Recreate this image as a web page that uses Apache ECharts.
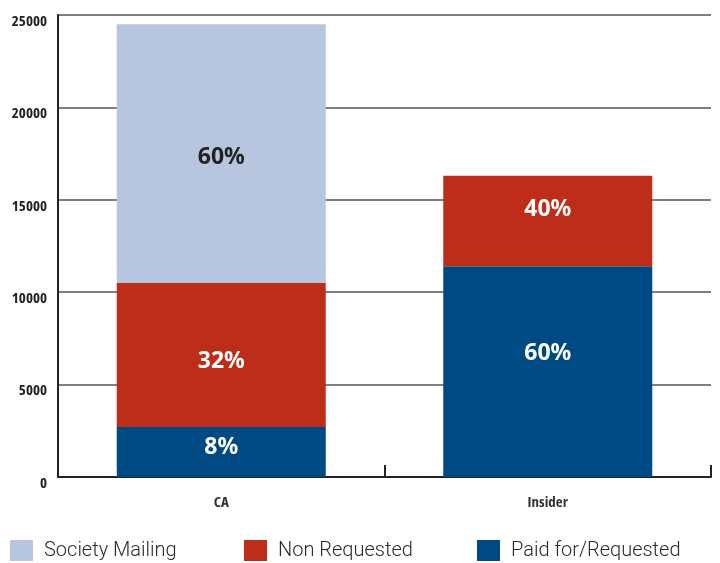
<!DOCTYPE html>
<html>
<head>
<meta charset="utf-8">
<script src="https://cdn.jsdelivr.net/npm/echarts@6/dist/echarts.min.js"></script>
<style>html,body{margin:0;padding:0;background:#fff;}#c{width:720px;height:563px;}</style>
</head>
<body>
<div id="c"></div>
<script>
const categories = ['CA', 'Insider'];
const paidValues = [2700, 11400];
const nonRequestedValues = [7800, 4900];
const societyValues = [14000, 0];
const paidLabels = ['8%', '60%'];
const nonRequestedLabels = ['32%', '40%'];
const societyLabels = ['60%', ''];
const yTicks = [0, 5000, 10000, 15000, 20000, 25000];

const condensed = '"Open Sans", sans-serif';
const labelOffsets = {paid: [[0, -5], [0, -18]], non: [[0, 6], [0, -12]], soc: [[0, 4], [0, 0]]};

function mkSeries(name, values, labels, color, textColor, offs) {
  return {
    name: name, type: 'bar', stack: 'total', barWidth: 209,
    itemStyle: {color: color},
    data: values.map((v, i) => ({
      value: v,
      label: {show: labels[i] !== '', formatter: labels[i], offset: offs[i]}
    })),
    label: {position: 'inside', color: textColor, fontSize: 23, fontWeight: 'bold',
            fontFamily: '"Noto Sans", sans-serif'}
  };
}

const chart = echarts.init(document.getElementById('c'));
const legendBase = {
  top: 540, padding: 0, itemWidth: 23, itemHeight: 21, icon: 'rect', itemGap: 0,
  textStyle: {fontSize: 20, color: '#2a2a2a', fontFamily: 'Roboto, sans-serif', fontWeight: 300, padding: [0, 0, 0, 6]}
};
chart.setOption({
  animation: false,
  grid: {left: 58, right: 9, top: 15, bottom: 86},
  legend: [
    Object.assign({left: 10, data: ['Society Mailing']}, legendBase),
    Object.assign({left: 244, data: ['Non Requested']}, legendBase),
    Object.assign({left: 477, data: ['Paid for/Requested']}, legendBase)
  ],
  xAxis: {
    type: 'category', data: categories,
    axisLine: {lineStyle: {color: '#222', width: 2}},
    axisTick: {show: true, inside: true, length: 12, lineStyle: {color: '#222', width: 2}},
    axisLabel: {color: '#333', fontSize: 15, fontWeight: 'bold condensed', fontFamily: condensed, margin: 18}
  },
  yAxis: {
    type: 'value', min: yTicks[0], max: yTicks[yTicks.length - 1], interval: yTicks[1] - yTicks[0],
    axisLine: {show: true, lineStyle: {color: '#222', width: 2}},
    axisTick: {show: false},
    splitLine: {lineStyle: {color: '#555', width: 1.5}},
    axisLabel: {color: '#222', fontSize: 15, fontWeight: 'bold condensed', fontFamily: condensed, margin: 11,
                verticalAlign: 'top', lineHeight: 13, formatter: v => String(v)}
  },
  series: [
    mkSeries('Paid for/Requested', paidValues, paidLabels, '#004a84', '#fff', labelOffsets.paid),
    mkSeries('Non Requested', nonRequestedValues, nonRequestedLabels, '#bd2d19', '#fff', labelOffsets.non),
    mkSeries('Society Mailing', societyValues, societyLabels, '#b8c5de', '#222', labelOffsets.soc)
  ]
});
</script>
</body>
</html>
